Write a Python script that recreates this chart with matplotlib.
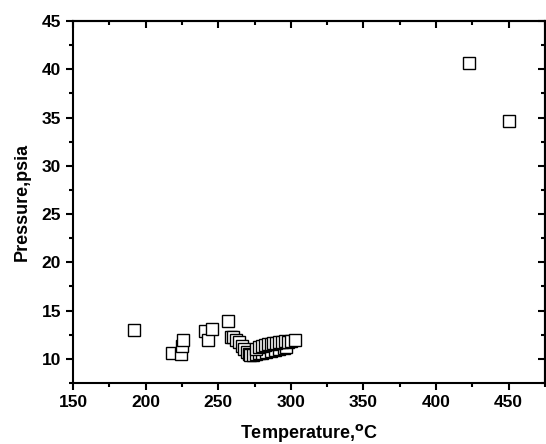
import matplotlib
matplotlib.use("Agg")
import matplotlib.pyplot as plt
from matplotlib.ticker import MultipleLocator

plt.rcParams['font.family'] = ['Liberation Sans', 'DejaVu Sans']
plt.rcParams['font.weight'] = 'bold'

# donnees
temperature = [191.7, 218.4, 224.3, 224.8, 225.7,
               240.8, 242.7, 245.4, 256.9, 258.5, 260.0,
               262.0, 264.5, 266.5, 268.0, 269.5, 271.0,
               272.0, 274.0, 276.0, 278.0, 280.0, 283.0, 286.0, 289.0, 292.0, 295.0, 297.0,
               276.0, 278.0, 280.0, 282.0, 284.0, 286.0, 288.0, 290.0, 292.0, 294.0, 296.0,
               298.0, 300.0, 303.0,
               422.9, 450.5]
pression = [13.0, 10.65, 10.55, 11.3, 12.0,
            12.9, 12.0, 13.1, 13.9, 12.3, 12.25,
            12.0, 11.7, 11.35, 11.0, 10.7, 10.5,
            10.4, 10.45, 10.5, 10.6, 10.65, 10.75, 10.85, 10.95, 11.05, 11.15, 11.2,
            11.0, 11.2, 11.3, 11.4, 11.5, 11.55, 11.6, 11.65, 11.7, 11.75, 11.8,
            11.75, 11.85, 12.0,
            40.7, 34.6]

fig = plt.figure(figsize=(5.46, 4.44), dpi=100)
ax = fig.add_axes([0.1337, 0.1374, 0.8645, 0.8153])

ax.plot(temperature, pression, linestyle='none', marker='s', markersize=8,
        markerfacecolor='white', markeredgecolor='black', markeredgewidth=1.0)

ax.set_xlim(150, 475)
ax.set_ylim(7.5, 45)
ax.xaxis.set_major_locator(MultipleLocator(50))
ax.xaxis.set_minor_locator(MultipleLocator(25))
ax.yaxis.set_major_locator(MultipleLocator(5))
ax.yaxis.set_minor_locator(MultipleLocator(2.5))

for s in ax.spines.values():
    s.set_linewidth(1.5)

ax.tick_params(which='both', direction='out', width=1.5, labelsize=12.5,
               top=False, right=False)
ax.tick_params(which='major', length=5)
ax.tick_params(which='minor', length=3)
for lab in ax.get_xticklabels() + ax.get_yticklabels():
    lab.set_fontweight('bold')

# graduations interieures en haut et a droite
ax2 = ax.secondary_xaxis('top')
ax2.xaxis.set_major_locator(MultipleLocator(50))
ax2.xaxis.set_minor_locator(MultipleLocator(25))
ax2.tick_params(which='both', direction='in', width=1.5, labeltop=False)
ax2.tick_params(which='major', length=5)
ax2.tick_params(which='minor', length=3)
ax2.spines['top'].set_linewidth(1.5)
ax3 = ax.secondary_yaxis('right')
ax3.yaxis.set_major_locator(MultipleLocator(5))
ax3.yaxis.set_minor_locator(MultipleLocator(2.5))
ax3.tick_params(which='both', direction='in', width=1.5, labelright=False)
ax3.tick_params(which='major', length=5)
ax3.tick_params(which='minor', length=3)
ax3.spines['right'].set_linewidth(1.5)

ax.set_xlabel('Temperature,$^{\\mathbf{o}}$C', fontsize=13, fontweight='bold', labelpad=9)
ax.set_ylabel('Pressure,psia', fontsize=13, fontweight='bold', labelpad=8)

fig.savefig('out.png', dpi=100)
